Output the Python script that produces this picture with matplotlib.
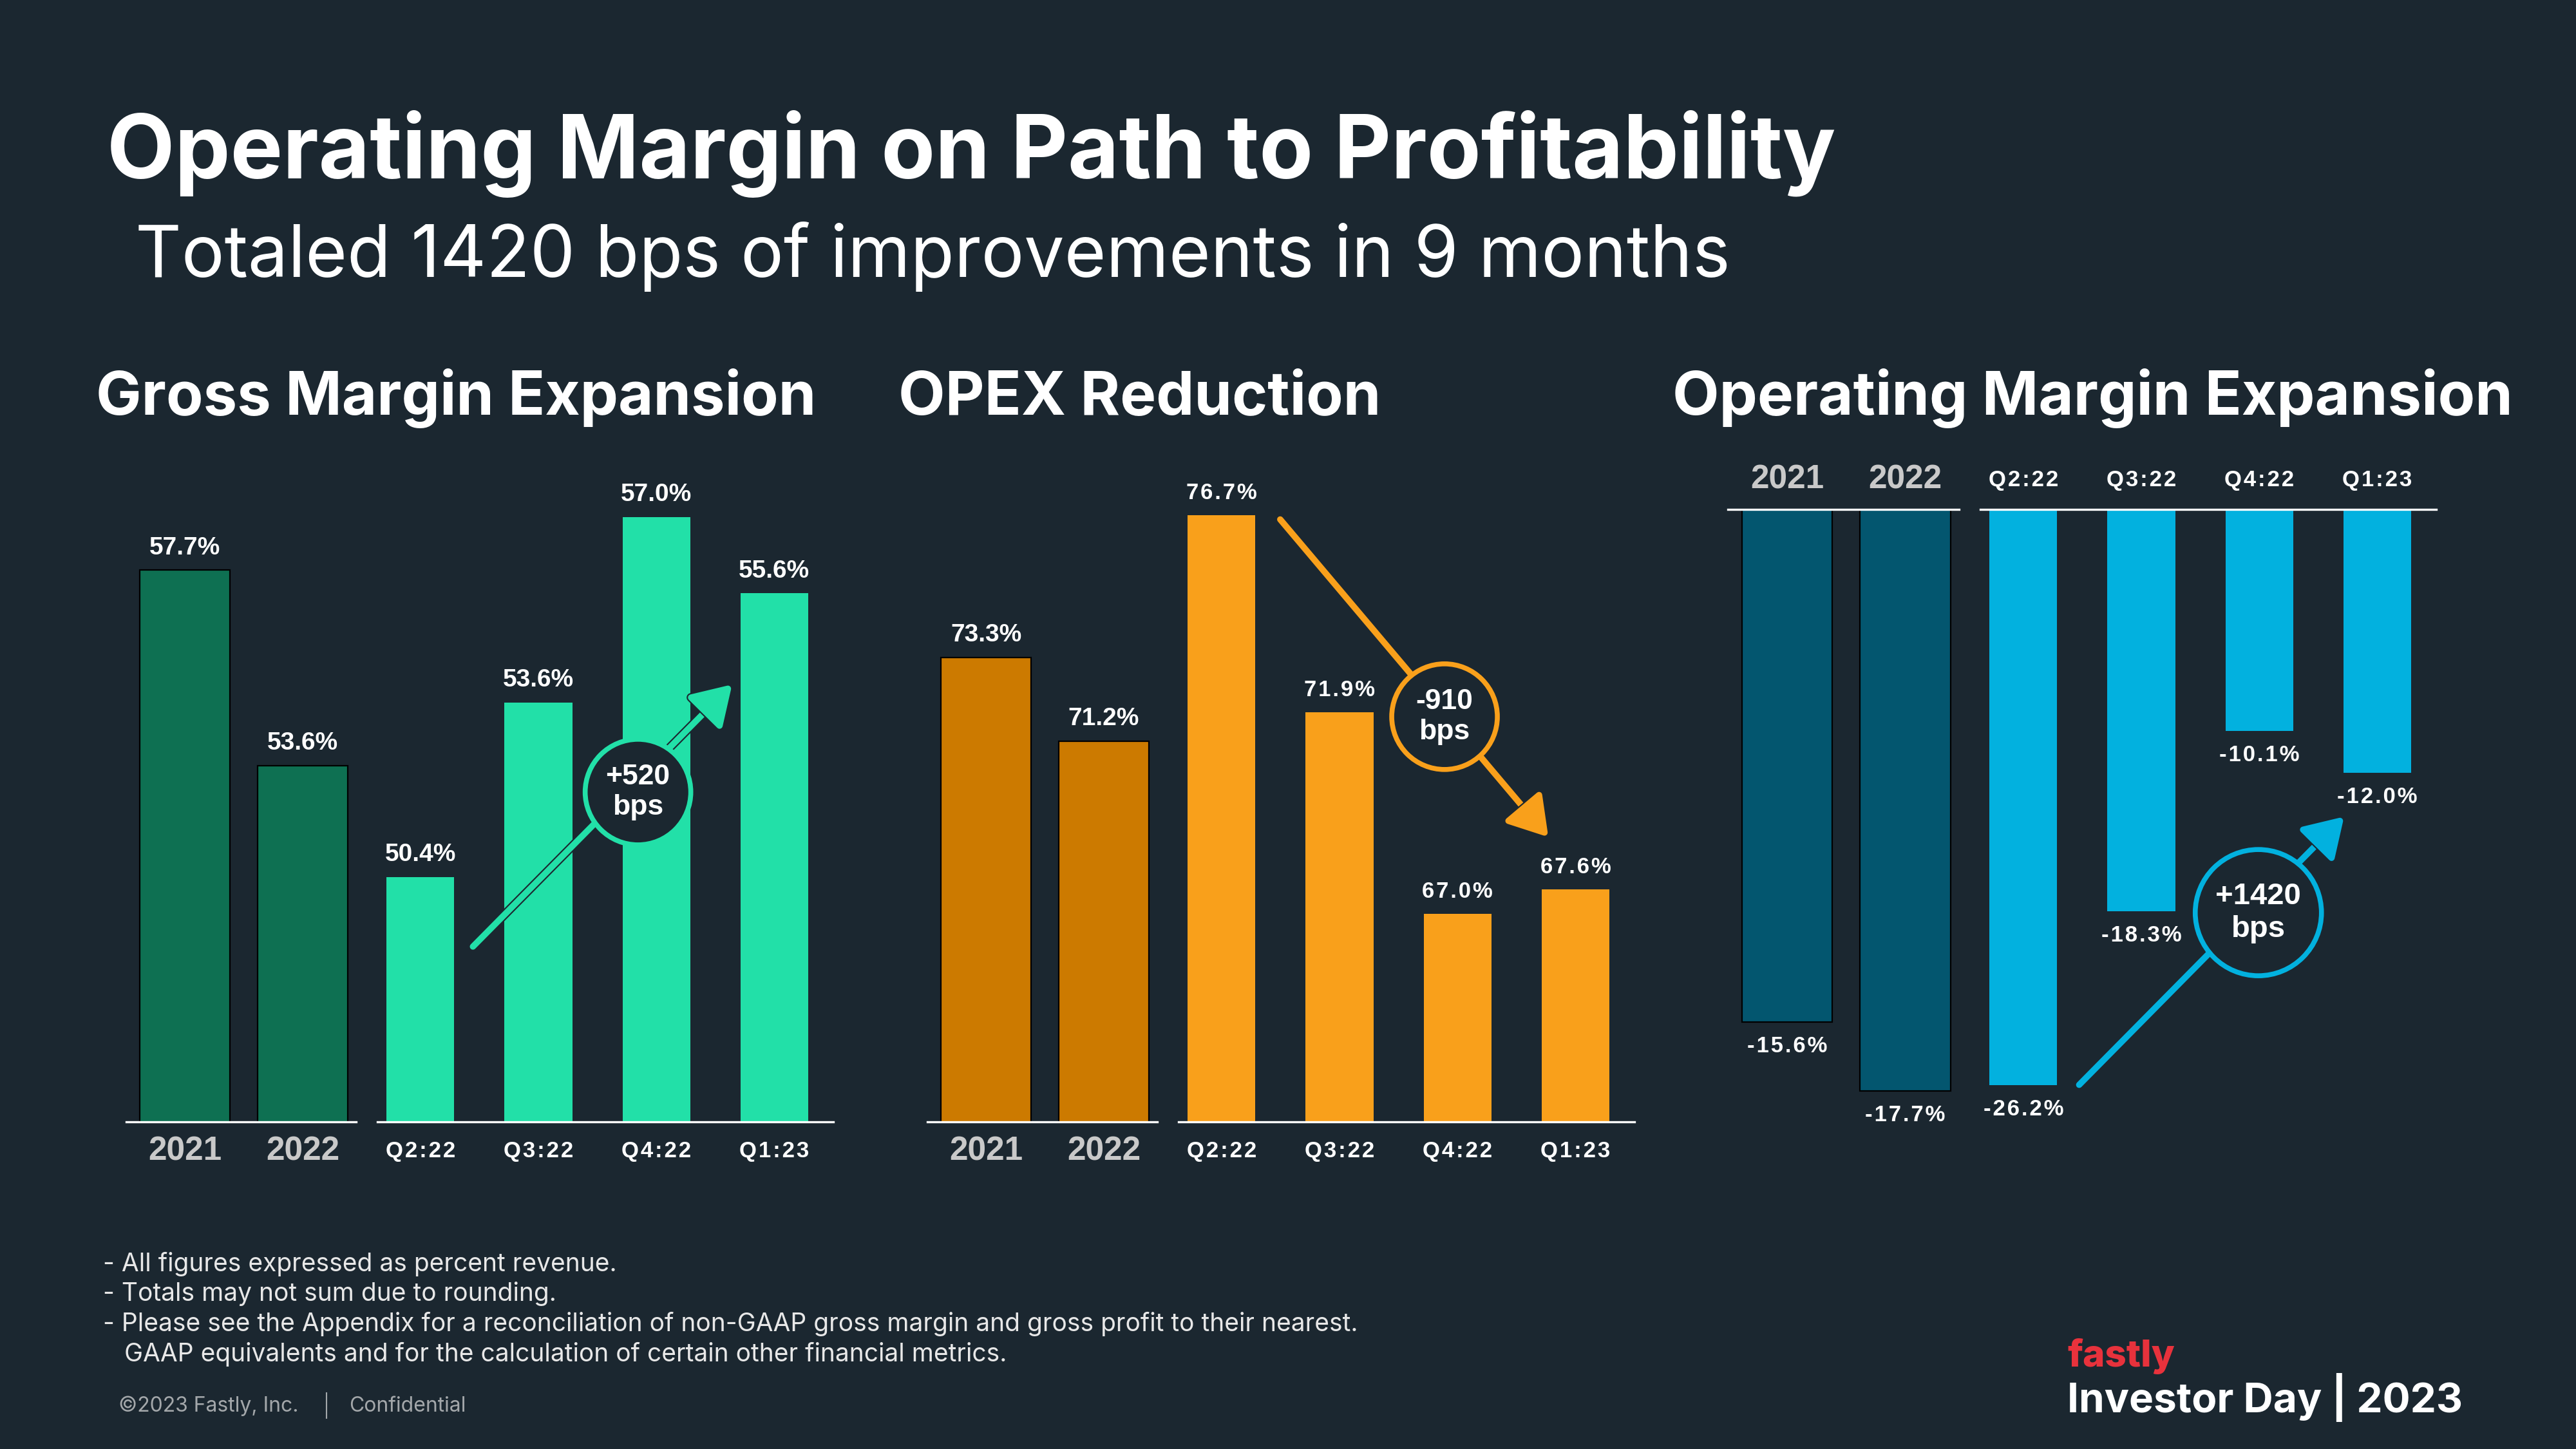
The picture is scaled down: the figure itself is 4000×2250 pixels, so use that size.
import matplotlib
matplotlib.use("Agg")
import matplotlib.pyplot as plt
import matplotlib.patheffects as pe
from matplotlib.patches import Circle
from matplotlib.transforms import ScaledTranslation

# ---- data ----
years = ["2021", "2022"]
quarters = ["Q2:22", "Q3:22", "Q4:22", "Q1:23"]

gm_years = [57.7, 53.6]
gm_quarters = [50.4, 53.6, 57.0, 55.6]
opex_years = [73.3, 71.2]
opex_quarters = [76.7, 71.9, 67.0, 67.6]
om_years = [-15.6, -17.7]
om_quarters = [-26.2, -18.3, -10.1, -12.0]

bubbles = ["+520\nbps", "-910\nbps", "+1420\nbps"]

title = "Operating Margin on Path to Profitability"
subtitle = "Totaled 1420 bps of improvements in 9 months"
section_titles = ["Gross Margin Expansion", "OPEX Reduction", "Operating Margin Expansion"]
notes = ["- All figures expressed as percent revenue.",
         "- Totals may not sum due to rounding.",
         "- Please see the Appendix for a reconciliation of non-GAAP gross margin and gross profit to their nearest.",
         "   GAAP equivalents and for the calculation of certain other financial metrics."]

# ---- style ----
BG = "#1B2730"
W, H = 4000, 2250
HEAD = ["Inter", "DejaVu Sans"]
ARIAL = ["Liberation Sans", "DejaVu Sans"]
NARROW = ["Liberation Sans Narrow", "Liberation Sans", "DejaVu Sans"]

fig = plt.figure(figsize=(W / 100, H / 100), dpi=100, facecolor=BG)


def px_axes(left, top, right, bottom):
    ax = fig.add_axes([left / W, 1 - bottom / H, (right - left) / W, (bottom - top) / H])
    ax.set_axis_off()
    return ax


def spaced(s):
    return "\u200a".join(s)


def bar_group(ax, labels, values, color, width, xlim, ylim, edge, val_font, cat_style, down):
    x = list(range(len(values)))
    ax.bar(x, values, width=width, color=color,
           edgecolor="black" if edge else color, linewidth=1.6 if edge else 0)
    ax.set_xlim(*xlim)
    ax.set_ylim(*ylim)
    base = ylim[1] if down else ylim[0]
    ax.axhline(base, color="white", lw=2.4, clip_on=False)
    for i, v in enumerate(values):
        if val_font == "narrow":
            txt, fam, fs = spaced("%.1f%%" % v), NARROW, 25
        else:
            txt, fam, fs = "%.1f%%" % v, ARIAL, 28
        ax.annotate(txt, xy=(i, v), xytext=(0, -27 if down else 25), textcoords="offset points",
                    ha="center", va="center", color="white", fontsize=fs,
                    fontweight="bold", family=fam, annotation_clip=False)
    for i, lab in enumerate(labels):
        if cat_style == "year":
            txt, fam, fs, col = lab, ARIAL, 37, "#C9C9C9"
        else:
            txt, fam, fs, col = spaced(lab), NARROW, 25, "white"
        ax.annotate(txt, xy=(i, base), xytext=(0, 33 if down else -33), textcoords="offset points",
                    ha="center", va="center", color=col, fontsize=fs,
                    fontweight="bold", family=fam, annotation_clip=False)


def bubble(ax, start, end, center, radius, text, color, fs):
    ax.annotate("", xy=end, xytext=start,
                arrowprops=dict(arrowstyle="-|>,head_length=0.45,head_width=0.28", color=color,
                                lw=7, mutation_scale=80, shrinkA=0, shrinkB=0,
                                path_effects=[pe.withStroke(linewidth=10, foreground=BG)]),
                zorder=4, annotation_clip=False)
    circ = Circle((0, 0), radius / 100, facecolor=BG, edgecolor=color, lw=5.5,
                  transform=fig.dpi_scale_trans + ScaledTranslation(center[0], center[1], ax.transData),
                  zorder=5, clip_on=False)
    ax.add_artist(circ)
    ax.text(center[0], center[1], text, ha="center", va="center", color="white",
            fontsize=fs, fontweight="bold", family=ARIAL, linespacing=1.2, zorder=6)


panel_x = [196, 1440, 2683]
year_xlim = (-0.5, 1.455)
q_xlim = (-0.365, 3.5)
year_w = 0.765
q_w = 0.574

# Gross margin
x0 = panel_x[0]
ax_a = px_axes(x0, 700, x0 + 357, 1742)
ax_b = px_axes(x0 + 390, 700, x0 + 1098, 1742)
bar_group(ax_a, years, gm_years, "#0E7052", year_w, year_xlim, (46.14, 60.2), True, "bold", "year", False)
bar_group(ax_b, quarters, gm_quarters, "#22E0A8", q_w, q_xlim, (45.92, 58.21), False, "bold", "q", False)
bubble(ax_b, (0.445, 49.13), (2.642, 53.93), (1.844, 51.96), 82, bubbles[0], "#22E0A8", 32)

# OPEX
x0 = panel_x[1]
ax_a = px_axes(x0, 700, x0 + 357, 1742)
ax_b = px_axes(x0 + 390, 700, x0 + 1098, 1742)
bar_group(ax_a, years, opex_years, "#CC7A00", year_w, year_xlim, (61.65, 78.48), True, "bold", "year", False)
bar_group(ax_b, quarters, opex_quarters, "#F9A01B", q_w, q_xlim, (61.94, 78.27), False, "narrow", "q", False)
bubble(ax_b, (0.497, 76.6), (2.770, 68.87), (1.890, 71.8), 82, bubbles[1], "#F9A01B", 32)

# Operating margin
x0 = panel_x[2]
ax_a = px_axes(x0, 791, x0 + 359, 1750)
ax_b = px_axes(x0 + 392, 791, x0 + 1100, 1750)
bar_group(ax_a, years, om_years, "#03566F", year_w, year_xlim, (-18.8, 0), True, "narrow", "year", True)
bar_group(ax_b, quarters, om_quarters, "#02B1DF", q_w, q_xlim, (-28.12, 0), False, "narrow", "q", True)
bubble(ax_b, (0.473, -26.2), (2.719, -13.99), (1.992, -18.36), 98, bubbles[2], "#02B1DF", 34)

# ---- texts ----
fig.text(166 / W, 1 - 277 / H, title, fontsize=98.5, fontweight="bold", family=HEAD,
         color="white", va="baseline")
fig.text(210 / W, 1 - 430 / H, subtitle, fontsize=80, family=HEAD, color="white", va="baseline")
for x, s in zip([149, 1395, 2597], section_titles):
    fig.text(x / W, 1 - 644 / H, s, fontsize=67.7, fontweight="bold", family=HEAD,
             color="white", va="baseline")

for i, s in enumerate(notes):
    fig.text(160 / W, 1 - (1963 + i * 46.5) / H, s, fontsize=28, family=HEAD,
             color="#E8E8E8", va="center")

fig.text(184 / W, 1 - 2183 / H, "\u00a92023 Fastly, Inc.", fontsize=23, family=HEAD,
         color="#A3A7AA", va="center")
fig.text(542 / W, 1 - 2183 / H, "Confidential", fontsize=23, family=HEAD,
         color="#A3A7AA", va="center")
fig.add_artist(plt.Line2D([507 / W, 507 / W], [1 - 2163 / H, 1 - 2202 / H], color="#A3A7AA", lw=1.5))

fig.text(3210 / W, 1 - 2122 / H, "fastly", fontsize=42, fontweight="heavy", family=HEAD,
         color="#E8323C", va="baseline")
fig.text(3210 / W, 1 - 2193 / H, "Investor Day | 2023", fontsize=46, fontweight="bold", family=HEAD,
         color="white", va="baseline")

fig.savefig("out.png", dpi=100, facecolor=BG)
